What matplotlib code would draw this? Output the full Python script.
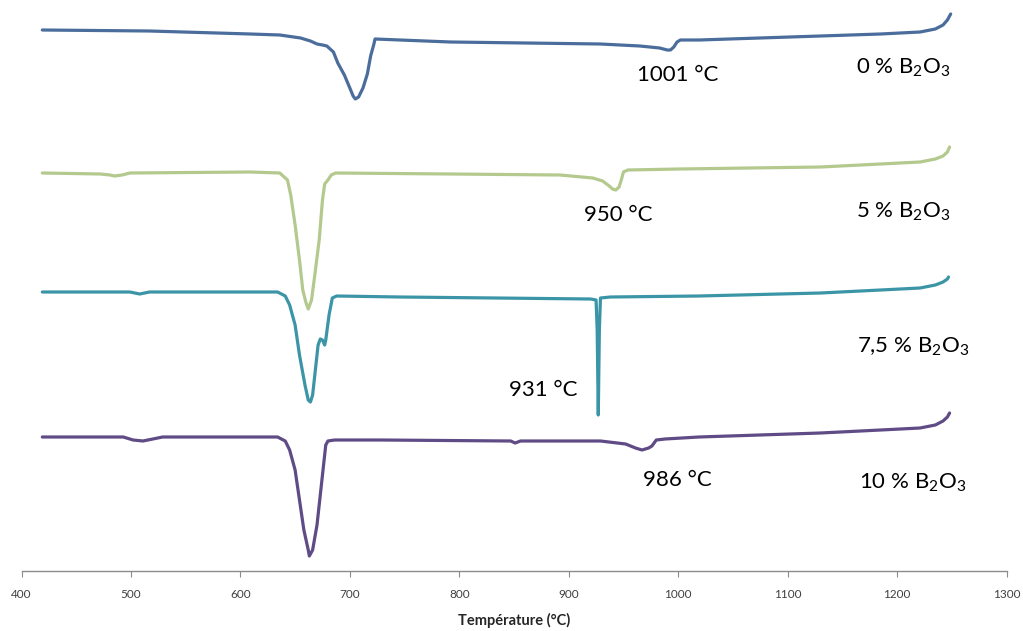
import matplotlib
matplotlib.use("Agg")
import matplotlib.pyplot as plt

plt.rcParams['font.family'] = ['Lato', 'DejaVu Sans']
plt.rcParams['mathtext.fontset'] = 'custom'
plt.rcParams['mathtext.rm'] = 'Lato'

# ---- data (temperature in °C, signal in arbitrary units, offset per curve) ----
t0 = [419, 517, 609, 636, 655, 664, 670, 675, 679, 685, 689, 695, 700, 703, 705, 708, 712, 716, 719, 722, 723,
      792, 929, 965, 983, 990, 993, 996, 999, 1002, 1019, 1130, 1185, 1221, 1235, 1242, 1246, 1249]
s0 = [541, 540, 537, 536, 533, 530, 527, 526, 525, 519, 508, 496, 483, 475, 472, 474, 483, 497, 515, 527, 532,
      529, 527, 525, 523, 521, 521, 524, 529, 531, 531, 535, 537, 539, 542, 546, 551, 557]

t5 = [419, 472, 481, 485, 492, 499, 609, 636, 643, 646, 650, 654, 657, 660, 662, 665, 668, 672, 675, 677, 680, 683, 687,
      792, 892, 922, 931, 937, 940, 943, 946, 948, 950, 954, 1001, 1130, 1185, 1221, 1235, 1242, 1246, 1248]
s5 = [398, 397, 396, 395, 396, 398, 399, 398, 391, 376, 346, 311, 281, 268, 262, 271, 296, 331, 371, 387, 391, 396, 398,
      397, 396, 393, 390, 385, 382, 381, 384, 391, 399, 401, 402, 404, 407, 409, 412, 415, 419, 424]

t75 = [419, 499, 508, 517, 634, 641, 645, 650, 654, 659, 662, 664, 666, 669, 671, 673, 675, 677, 678, 681, 684, 688,
       746, 920, 925, 926, 927, 928, 929, 938, 1019, 1130, 1185, 1221, 1235, 1242, 1246, 1247]
s75 = [279, 279, 277, 279, 279, 275, 266, 246, 216, 186, 171, 169, 176, 206, 226, 232, 231, 226, 231, 256, 273, 275,
       274, 272, 271, 241, 156, 241, 273, 274, 275, 278, 281, 283, 286, 289, 292, 294]

t10 = [419, 493, 502, 511, 520, 529, 634, 641, 645, 650, 654, 658, 662, 663, 666, 670, 673, 676, 678, 680, 686,
       728, 847, 851, 856, 929, 952, 961, 967, 973, 976, 980, 988, 1019, 1130, 1185, 1221, 1235, 1242, 1246, 1248]
s10 = [134, 134, 131, 130, 132, 134, 134, 130, 121, 101, 71, 41, 21, 15, 21, 46, 76, 106, 126, 130, 131,
       131, 130, 128, 130, 130, 127, 123, 121, 123, 125, 131, 132, 134, 138, 141, 143, 146, 150, 154, 158]

colors = ['#4a6d9c', '#b4c98e', '#3c95a7', '#5f4b85']
series_labels = [r'0 % B$\mathregular{_2}$O$\mathregular{_3}$',
                 r'5 % B$\mathregular{_2}$O$\mathregular{_3}$',
                 r'7,5 % B$\mathregular{_2}$O$\mathregular{_3}$',
                 r'10 % B$\mathregular{_2}$O$\mathregular{_3}$']
label_T = [1206, 1206, 1215, 1214]
label_s = [503, 359, 224, 88]

peak_text = ['1001 °C', '950 °C', '931 °C', '986 °C']
peak_T = [1000, 945, 877, 999]
peak_s = [496, 356, 181, 91]

xticks = [400, 500, 600, 700, 800, 900, 1000, 1100, 1200, 1300]

fig = plt.figure(figsize=(10.23, 6.31), dpi=100)
ax = fig.add_axes([21.5 / 1023, 60 / 631, 985 / 1023, 571 / 631])

for t, s, c in zip([t0, t5, t75, t10], [s0, s5, s75, s10], colors):
    ax.plot(t, s, color=c, lw=2.3, solid_joinstyle='round', solid_capstyle='round')

for txt, x, y in zip(series_labels, label_T, label_s):
    ax.text(x, y, txt, ha='center', va='center', fontsize=16, color='black')
for txt, x, y in zip(peak_text, peak_T, peak_s):
    ax.text(x, y, txt, ha='center', va='center', fontsize=16, color='black')

ax.set_xlim(400, 1300)
ax.set_ylim(0, 571)
ax.set_xticks(xticks)
ax.set_xticklabels([str(v) for v in xticks], fontsize=8.5, color='#404040')
ax.set_yticks([])
for sp in ['top', 'right', 'left']:
    ax.spines[sp].set_visible(False)
ax.spines['bottom'].set_color('#8c8c8c')
ax.spines['bottom'].set_linewidth(1.0)
ax.tick_params(axis='x', direction='out', length=4, color='#8c8c8c', pad=9)
ax.set_xlabel('Température (°C)', fontsize=10.5, fontweight='bold', color='#262626', labelpad=9)

fig.savefig('out.png', dpi=100)
